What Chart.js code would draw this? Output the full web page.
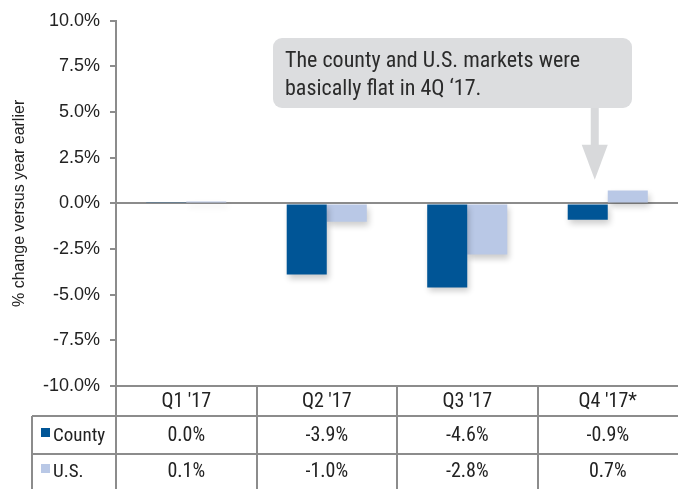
<!DOCTYPE html>
<html>
<head>
<meta charset="utf-8">
<script src="https://cdn.jsdelivr.net/npm/chart.js@4"></script>
<style>
  html, body { margin: 0; padding: 0; background: #fff; }
  #wrap { width: 678px; height: 489px; position: relative; }
</style>
</head>
<body>
<div id="wrap"><canvas id="myChart" width="678" height="489"></canvas></div>
<script>
// data
const quarters = ["Q1 '17", "Q2 '17", "Q3 '17", "Q4 '17*"];
const countyValues = [0.04, -3.9, -4.6, -0.9];
const usValues = [0.1, -1.0, -2.8, 0.7];
const seriesNames = ['County', 'U.S.'];
const seriesColors = ['#005596', '#b9c8e6'];
const noteLines = ['The county and U.S. markets were', 'basically flat in 4Q \u201817.'];

const gridGrey = '#8c8c8c';
const narrow = "'Roboto Condensed', 'DejaVu Sans Condensed', sans-serif";
const plain = "'Liberation Sans', Arial, sans-serif";

// soft shadow under the bars
const barShadow = {
    id: 'barShadow',
    beforeDatasetsDraw(chart) {
        const ctx = chart.ctx;
        ctx.save();
        ctx.shadowColor = 'rgba(0,0,0,0.2)';
        ctx.shadowBlur = 6;
        ctx.shadowOffsetX = 2;
        ctx.shadowOffsetY = 4;
    },
    afterDatasetsDraw(chart) {
        chart.ctx.restore();
    }
};

// data table under the x axis
const dataTable = {
    id: 'dataTable',
    afterDraw(chart) {
        const ctx = chart.ctx;
        const x = chart.scales.x;
        const area = chart.chartArea;
        const top = area.bottom;
        const rowTops = [top, top + 30, top + 68];
        const bottom = chart.height;
        const left = 32;
        const colW = (area.right - area.left) / quarters.length;

        ctx.save();
        ctx.strokeStyle = gridGrey;
        ctx.lineWidth = 2;
        ctx.beginPath();
        ctx.moveTo(left, rowTops[1]); ctx.lineTo(area.right, rowTops[1]);
        ctx.moveTo(left, rowTops[2]); ctx.lineTo(area.right, rowTops[2]);
        ctx.moveTo(left, rowTops[1]); ctx.lineTo(left, bottom);
        ctx.moveTo(area.left, top); ctx.lineTo(area.left, bottom);
        for (let i = 1; i < quarters.length; i++) {
            const xx = Math.round(area.left + colW * i);
            ctx.moveTo(xx, top); ctx.lineTo(xx, bottom);
        }
        ctx.stroke();

        ctx.fillStyle = '#222';
        ctx.font = '20px ' + narrow;
        ctx.textAlign = 'center';
        ctx.textBaseline = 'middle';
        const rowMid = [top + 16, top + 50, top + 86];
        quarters.forEach((q, i) => {
            const cx = x.getPixelForValue(i);
            ctx.fillText(q, cx, rowMid[0]);
            ctx.fillText(countyValues[i].toFixed(1) + '%', cx, rowMid[1]);
            ctx.fillText(usValues[i].toFixed(1) + '%', cx, rowMid[2]);
        });

        // legend keys
        ctx.textAlign = 'left';
        ctx.font = '19px ' + narrow;
        [0, 1].forEach(k => {
            const my = rowMid[k + 1];
            ctx.fillStyle = seriesColors[k];
            ctx.fillRect(41, my - 8, 9, 9);
            ctx.fillStyle = '#222';
            ctx.fillText(seriesNames[k], 53, my);
        });
        ctx.restore();
    }
};

// callout box with arrow pointing at Q4
const callout = {
    id: 'callout',
    afterDraw(chart) {
        const ctx = chart.ctx;
        const x = chart.scales.x;
        const y = chart.scales.y;
        const bx = 273, by = 38, bw = 359, bh = 70;
        const tipX = x.getPixelForValue(3) - 13;
        const tipY = y.getPixelForValue(1.3);

        ctx.save();
        ctx.fillStyle = '#dcdddf';
        ctx.beginPath();
        ctx.roundRect(bx, by, bw, bh, 9);
        ctx.fill();

        ctx.fillStyle = '#d8d9db';
        ctx.fillRect(tipX - 4, by + bh, 8, tipY - 34 - (by + bh));
        ctx.beginPath();
        ctx.moveTo(tipX - 13, tipY - 35);
        ctx.lineTo(tipX + 13, tipY - 35);
        ctx.lineTo(tipX, tipY);
        ctx.closePath();
        ctx.fill();

        ctx.fillStyle = '#2b2b2b';
        ctx.font = '22px ' + narrow;
        ctx.textAlign = 'left';
        ctx.textBaseline = 'middle';
        ctx.fillText(noteLines[0], bx + 12, by + 23);
        ctx.fillText(noteLines[1], bx + 12, by + 51);
        ctx.restore();
    }
};

const ctx = document.getElementById('myChart').getContext('2d');
new Chart(ctx, {
    type: 'bar',
    data: {
        labels: quarters,
        datasets: [{
            label: seriesNames[0],
            data: countyValues,
            backgroundColor: seriesColors[0],
            barPercentage: 1,
            categoryPercentage: 0.57
        },
        {
            label: seriesNames[1],
            data: usValues,
            backgroundColor: seriesColors[1],
            barPercentage: 1,
            categoryPercentage: 0.57
        }]
    },
    options: {
        responsive: false,
        animation: false,
        layout: { padding: { top: 18, right: 0, left: 0, bottom: 0 } },
        plugins: {
            legend: { display: false },
            tooltip: { enabled: false }
        },
        scales: {
            x: {
                grid: { display: false },
                ticks: { display: false },
                border: { color: gridGrey, width: 2 },
                afterFit(scale) { scale.height = 103; }
            },
            y: {
                min: -10,
                max: 10,
                ticks: {
                    stepSize: 2.5,
                    color: '#222',
                    padding: 10,
                    font: { family: plain, size: 18 },
                    callback: v => v.toFixed(1) + '%'
                },
                grid: {
                    color: c => (c.tick && c.tick.value === 0) ? gridGrey : 'transparent',
                    lineWidth: 2,
                    tickColor: gridGrey,
                    tickLength: 6
                },
                border: { color: gridGrey, width: 2 },
                title: {
                    display: true,
                    text: '% change versus year earlier',
                    color: '#222',
                    padding: { top: 10, bottom: 0 },
                    font: { family: plain, size: 16 }
                },
                afterFit(scale) { scale.width = 116; }
            }
        }
    },
    plugins: [barShadow, dataTable, callout]
});
</script>
</body>
</html>
